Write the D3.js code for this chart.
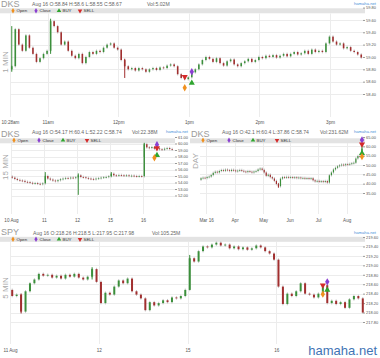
<!DOCTYPE html>
<html><head><meta charset="utf-8">
<script src="https://cdn.jsdelivr.net/npm/d3@7"></script>
<style>
body{margin:0;background:#fff}
svg{display:block;font-family:"Liberation Sans",Arial,sans-serif}
</style>
</head><body>
<svg id="c" width="380" height="358"></svg>
<script>
// ---------- shared ----------
const legendNames = ["Open", "Close", "BUY", "SELL"];
const legendColors = {Open: "#f0901e", Close: "#8a3fd1", BUY: "#2fa52f", SELL: "#d42a2a"};

// ---------- Panel 1: DKS 1 MIN ----------
const dks1Info = "Aug 16 O:58.84 H:58.6 L:58.55 C:58.67";
const dks1Vol = "Vol:5.02M";
const dks1XTickPos = [0, 10.67, 30.67, 50.67, 70.67, 90.67];
const dks1XTickLabels = ["10:28am", "11am", "12pm", "1pm", "2pm", "3pm"];
const dks1YTicks = [58.4, 58.6, 58.8, 59.0, 59.2, 59.4, 59.6, 59.8];
const dks1FirstOpen = 58.80;
const dks1Close = [
  58.85, 59.45, 59.20, 59.10, 59.35, 59.15, 59.05, 58.92, 58.98, 59.05,
  59.10, 59.58, 59.50, 59.40, 59.20, 59.25, 59.10, 59.02, 58.98, 59.05,
  58.90, 59.00, 59.08, 59.05, 59.10, 59.08, 59.15, 59.20, 59.22, 59.15,
  59.12, 58.95, 58.85, 58.80, 58.82, 58.78, 58.82, 58.80, 58.76, 58.80,
  58.82, 58.79, 58.83, 58.82, 58.86, 58.88, 58.85, 58.72, 58.66, 58.64,
  58.67, 58.75, 58.80, 58.88, 58.95, 59.00, 58.97, 58.92, 58.98, 58.90,
  58.86, 58.93, 58.96, 58.88, 58.85, 58.90, 58.93, 58.97, 58.92, 58.95,
  59.00, 58.98, 59.02, 59.00, 59.03, 58.99, 59.02, 59.05, 59.01, 59.05,
  59.08, 59.04, 59.06, 59.10, 59.05, 59.12, 59.08, 59.10, 59.08, 59.22,
  59.33, 59.25, 59.20, 59.22, 59.14, 59.16, 59.10, 59.08, 59.04, 58.99
];
const dks1Spikes = [[0, 58.76, 59.50], [11, 59.05, 59.62], [32, 58.66, 58.97]];
const dks1Markers = [["Open", 49, 58.50], ["SELL", 49, 58.68], ["Close", 51, 58.76], ["BUY", 51, 58.58]];

// ---------- Panel 2: DKS 15 MIN ----------
const dks15Info = "Aug 16 O:54.17 H:60.4 L:52.22 C:58.74";
const dks15Vol = "Vol:22.38M";
const dks15XTickPos = [0, 13, 26, 39, 52];
const dks15XTickLabels = ["10 Aug", "11", "12", "15", "16"];
const dks15YTicks = [52, 53, 54, 55, 56, 57, 58, 59, 60, 61];
const dks15FirstOpen = 54.90;
const dks15Close = [
  54.75, 54.55, 54.40, 54.30, 54.25, 54.10, 54.05, 53.95, 53.85, 53.90, 53.80, 53.75, 53.85,
  55.00, 54.60, 54.45, 54.30, 54.20, 54.35, 54.50, 54.60, 54.70, 54.65, 54.75, 54.70, 54.80,
  55.10, 54.85, 54.80, 54.70, 54.60, 54.55, 54.50, 54.60, 54.65, 54.75, 54.80, 54.85, 54.95,
  55.35, 55.10, 55.05, 55.15, 55.10, 55.05, 55.10, 55.00, 55.05, 55.00, 54.95, 55.00, 54.95,
  59.90, 59.40, 59.30, 59.45, 59.20, 59.25, 59.10, 59.05, 59.20, 59.30, 59.15, 59.05
];
const dks15Spikes = [[13, 54.3, 55.6], [26, 52.1, 55.4], [39, 54.9, 55.6], [52, 57.9, 60.1]];
const dks15Markers = [["Close", 57, 59.8], ["SELL", 57, 59.3], ["BUY", 57, 58.2], ["Open", 56, 57.8]];

// ---------- Panel 3: DKS DAY ----------
const dksDInfo = "Aug 16 O:42.1 H:60.4 L:37.86 C:58.74";
const dksDVol = "Vol:231.62M";
const dksDXTickPos = [3, 17, 31, 44, 58, 72];
const dksDXTickLabels = ["Mar 16", "Apr", "May", "Jun", "Jul", "Aug"];
const dksDYTicks = [35, 40, 45, 50, 55, 60, 65];
const dksDFirstOpen = 42.1;
const dksDClose = [
  42.9, 43.2, 43.0, 43.5, 43.8, 44.6, 45.8, 46.4, 46.0, 46.8,
  47.3, 46.9, 47.5, 47.2, 46.8, 47.4, 47.1, 46.6, 47.0, 47.3,
  46.9, 46.5, 46.2, 46.7, 46.4, 46.0, 46.5, 46.8, 47.6, 48.1,
  47.4, 46.0, 44.2, 44.8, 43.5, 42.8, 41.5, 39.8, 38.6, 42.7,
  43.5, 43.2, 43.6, 43.3, 43.5, 43.1, 43.4, 43.0, 43.3, 42.9,
  43.1, 42.7, 43.0, 42.6, 42.9, 41.8, 41.2, 41.5, 41.0, 41.3,
  40.9, 41.4, 40.6, 44.5, 46.0, 47.6, 48.5, 49.3, 49.8, 50.2,
  49.9, 50.4, 50.2, 50.6, 50.9, 51.2, 53.5, 54.8, 54.5, 58.7
];
const dksDSpikes = [[38, 37.86, 40.2], [79, 54.17, 60.4]];
const dksDMarkers = [["Close", 79, 63.4], ["SELL", 79, 61.1], ["BUY", 79, 56.3], ["Open", 79, 54.5]];

// ---------- Panel 4: SPY 5 MIN ----------
const spyInfo = "Aug 16 O:218.26 H:218.5 L:217.95 C:217.98";
const spyVol = "Vol:105.25M";
const spyXTickPos = [0, 20, 40, 60];
const spyXTickLabels = ["11 Aug", "12", "15", "16"];
const spyYTicks = [217.8, 218.0, 218.2, 218.4, 218.6, 218.8, 219.0, 219.2, 219.4, 219.6];
const spyFirstOpen = 218.48;
const spyClose = [
  218.35, 218.38, 218.02, 218.45, 218.62, 218.70, 218.82, 218.78, 218.80, 218.74,
  218.78, 218.72, 218.80, 218.76, 218.82, 218.74, 218.70, 218.76, 218.92, 218.65,
  218.20, 218.42, 218.38, 218.55, 218.68, 218.62, 218.72, 218.45, 218.38, 218.30,
  218.05, 218.22, 218.15, 218.20, 218.26, 218.22, 218.32, 218.30, 218.35, 218.48,
  219.15, 219.08, 219.30, 219.40, 219.38, 219.44, 219.48, 219.42, 219.44, 219.36,
  219.40, 219.34, 219.38, 219.33, 219.36, 219.42, 219.38, 219.30, 219.25, 219.12,
  218.55, 218.18, 218.40, 218.35, 218.45, 218.62, 218.40, 218.38, 218.32, 218.40,
  218.58, 218.20, 218.25, 218.18, 218.22, 218.10, 218.28, 218.35, 218.30, 218.00
];
const spySpikes = [[2, 217.98, 218.40], [18, 218.70, 218.96], [40, 218.48, 219.22]];
const spyMarkers = [["Open", 70, 218.39], ["SELL", 70, 218.58], ["Close", 71, 218.65], ["BUY", 71, 218.48]];

// ---------- layout / config ----------
const panels = [
  {sym: "DKS", period: "1 MIN", info: dks1Info, vol: dks1Vol, closes: dks1Close, firstOpen: dks1FirstOpen,
   spikes: dks1Spikes, markers: dks1Markers, yTicks: dks1YTicks, xPos: dks1XTickPos, xLab: dks1XTickLabels,
   xDomain: [0, 100], xRange: [10, 363], yDomain: [58.4, 59.8], yRange: [94, 7.6],
   left: 0, gx0: 10, gx1: 363, top: 13.5, bottom: 117, xLabY: 124, bodyW: 1.6,
   infoY: 5.5, infoX: 32, volX: 147, siteX: 376, barY: 8.3, barW: 365,
   legX: [13, 36, 59, 80], legY: 10.8, periodY: 62},
  {sym: "DKS", period: "15 MIN", info: dks15Info, vol: dks15Vol, closes: dks15Close, firstOpen: dks15FirstOpen,
   spikes: dks15Spikes, markers: dks15Markers, yTicks: dks15YTicks, xPos: dks15XTickPos, xLab: dks15XTickLabels,
   xDomain: [0, 65], xRange: [11, 176], yDomain: [52, 61], yRange: [195.5, 137],
   left: 0, gx0: 11, gx1: 175, top: 142.5, bottom: 214, xLabY: 222.5, bodyW: 1.4,
   infoY: 134, infoX: 32, volX: 132, siteX: 188, barY: 138.3, barW: 175,
   legX: [14, 39, 63, 87], legY: 140.3, periodY: 167},
  {sym: "DKS", period: "DAY", info: dksDInfo, vol: dksDVol, closes: dksDClose, firstOpen: dksDFirstOpen,
   spikes: dksDSpikes, markers: dksDMarkers, yTicks: dksDYTicks, xPos: dksDXTickPos, xLab: dksDXTickLabels,
   xDomain: [0, 80], xRange: [200, 363], yDomain: [35, 65], yRange: [193, 137],
   left: 190, gx0: 200, gx1: 363, top: 142.5, bottom: 214, xLabY: 222.5, bodyW: 1.2,
   infoY: 134, infoX: 222, volX: 320, siteX: 376, barY: 138.3, barW: 175,
   legX: [203, 229, 253, 277], legY: 140.3, periodY: 161},
  {sym: "SPY", period: "5 MIN", info: spyInfo, vol: spyVol, closes: spyClose, firstOpen: spyFirstOpen,
   spikes: spySpikes, markers: spyMarkers, yTicks: spyYTicks, xPos: spyXTickPos, xLab: spyXTickLabels,
   xDomain: [0, 80], xRange: [10, 365], yDomain: [217.8, 219.6], yRange: [322, 237],
   left: 0, gx0: 10, gx1: 363, top: 242, bottom: 344, xLabY: 352.5, bodyW: 2,
   infoY: 234.5, infoX: 33, volX: 152, siteX: 376, barY: 236.8, barW: 365,
   legX: [13, 36, 59, 80], legY: 239.3, periodY: 288}
];

const svg = d3.select("#c");
const UP = "#3b8f3b", DOWN = "#a12f2f";

function markerPath(type, size) {
  if (type === "BUY" || type === "SELL") return d3.symbol(d3.symbolTriangle, size)();
  return d3.symbol(d3.symbolDiamond, size)();
}

panels.forEach(p => {
  const g = svg.append("g");
  const x = d3.scaleLinear().domain(p.xDomain).range(p.xRange);
  const y = d3.scaleLinear().domain(p.yDomain).range(p.yRange);

  // grid
  g.append("g").selectAll("line").data(p.yTicks.filter(v => y(v) > p.top && y(v) < p.bottom)).join("line")
    .attr("x1", p.gx0).attr("x2", p.gx1)
    .attr("y1", d => Math.round(y(d)) + 0.5).attr("y2", d => Math.round(y(d)) + 0.5)
    .attr("stroke", "#ececec").attr("stroke-width", 1);
  g.append("g").selectAll("line").data(p.xPos).join("line")
    .attr("x1", d => Math.round(x(d)) + 0.5).attr("x2", d => Math.round(x(d)) + 0.5)
    .attr("y1", p.top).attr("y2", p.bottom)
    .attr("stroke", "#ececec").attr("stroke-width", 1);

  // title
  g.append("text").attr("x", p.left + 1).attr("y", p.barY - 1.6).text(p.sym)
    .attr("font-size", 9).attr("fill", "#9a9a9a");

  // legend bar
  g.append("rect").attr("x", p.left).attr("y", p.barY).attr("width", p.barW).attr("height", 5)
    .attr("fill", "#e3e3e3");
  legendNames.forEach((n, k) => {
    const lx = p.legX[k];
    g.append("path").attr("d", markerPath(n, 9))
      .attr("transform", `translate(${lx},${p.legY})` + (n === "SELL" ? " rotate(180)" : ""))
      .attr("fill", legendColors[n]);
    g.append("text").attr("x", lx + 3.5).attr("y", p.legY + 1.6).text(n)
      .attr("font-size", 4.4).attr("fill", "#333");
  });

  g.append("text").attr("x", p.infoX).attr("y", p.infoY).text(p.info)
    .attr("font-size", 5.1).attr("fill", "#666");
  g.append("text").attr("x", p.volX).attr("y", p.infoY).text(p.vol)
    .attr("font-size", 5.1).attr("fill", "#666");
  g.append("text").attr("x", p.siteX).attr("y", p.infoY - 1).attr("text-anchor", "end").text("hamaha.net")
    .attr("font-size", 4.2).attr("fill", "#4a90d9");
  g.append("text").attr("transform", `translate(${p.left + 8},${p.periodY}) rotate(-90)`)
    .attr("text-anchor", "middle").text(p.period)
    .attr("font-size", 8).attr("fill", "#a8a8a8");

  // axes
  const ya = g.append("g").attr("transform", `translate(${p.gx1},0)`)
    .call(d3.axisRight(y).tickValues(p.yTicks).tickFormat(d3.format(".2f")).tickSize(2).tickPadding(1));
  ya.select(".domain").remove();
  ya.selectAll("line").attr("stroke", "#999");
  ya.selectAll("text").attr("font-size", 4).attr("fill", "#555").attr("font-family", "Liberation Sans, Arial, sans-serif");

  const xa = g.append("g").attr("transform", `translate(0,${p.xLabY - 3.4})`)
    .call(d3.axisBottom(x).tickValues(p.xPos).tickFormat((d, i) => p.xLab[i]).tickSize(0).tickPadding(0));
  xa.select(".domain").remove();
  xa.selectAll("text").attr("font-size", 4.6).attr("fill", "#555").attr("font-family", "Liberation Sans, Arial, sans-serif");

  // candles
  const cd = p.closes.map((c, i) => ({i, o: i === 0 ? p.firstOpen : p.closes[i - 1], c}));
  const cg = g.append("g");
  cg.selectAll("line.w").data(cd).join("line").attr("class", "w")
    .attr("x1", d => x(d.i + 0.5)).attr("x2", d => x(d.i + 0.5))
    .attr("y1", d => y(Math.max(d.o, d.c)) - 1.3).attr("y2", d => y(Math.min(d.o, d.c)) + 1.3)
    .attr("stroke", "#b5b5b5").attr("stroke-width", 0.8);
  cg.selectAll("line.s").data(p.spikes).join("line").attr("class", "s")
    .attr("x1", d => x(d[0] + 0.5)).attr("x2", d => x(d[0] + 0.5))
    .attr("y1", d => y(d[2])).attr("y2", d => y(d[1]))
    .attr("stroke", d => (cd[d[0]].c >= cd[d[0]].o ? UP : DOWN)).attr("stroke-width", 1);
  cg.selectAll("rect").data(cd).join("rect")
    .attr("x", d => x(d.i + 0.5) - p.bodyW / 2).attr("width", p.bodyW)
    .attr("y", d => y(Math.max(d.o, d.c)))
    .attr("height", d => Math.max(0.8, Math.abs(y(d.o) - y(d.c))))
    .attr("fill", d => d.c >= d.o ? UP : DOWN);

  // markers
  g.append("g").selectAll("path").data(p.markers).join("path")
    .attr("d", d => markerPath(d[0], 16))
    .attr("transform", d => `translate(${x(d[1] + 0.5)},${y(d[2])})` + (d[0] === "SELL" ? " rotate(180)" : ""))
    .attr("fill", d => legendColors[d[0]]);
});

// watermark
svg.append("text").attr("x", 377).attr("y", 355).attr("text-anchor", "end")
  .text("hamaha.net").attr("font-size", 13).attr("fill", "#3f74b5");
</script>
</body></html>
